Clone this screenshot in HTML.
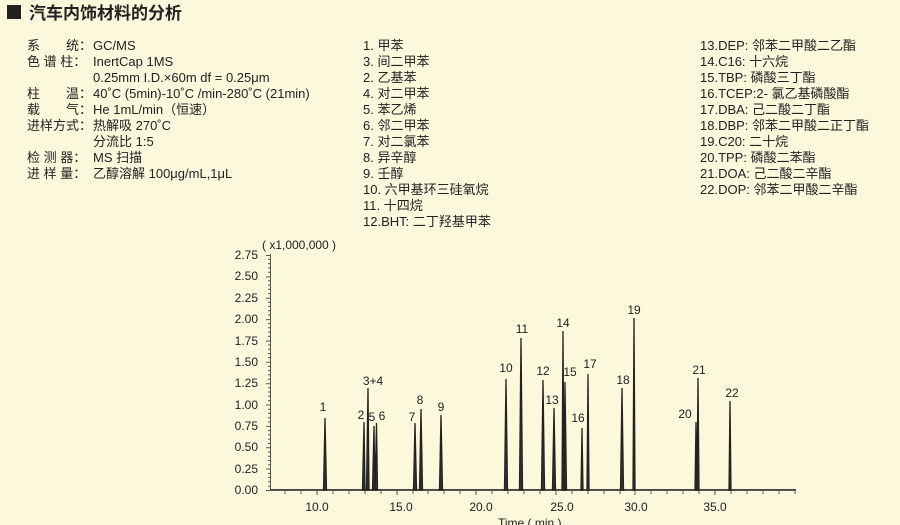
<!DOCTYPE html>
<html><head><meta charset="utf-8"><style>
body{margin:0;width:900px;height:525px;background:#fbf8dc;overflow:hidden;font-family:"Liberation Sans","Noto Sans CJK SC",sans-serif;color:#222}
svg{position:absolute;left:0;top:0}
</style></head><body>
<svg width="900" height="525" viewBox="0 0 900 525" font-family="Liberation Sans, Noto Sans CJK SC, sans-serif">
<rect x="7" y="5" width="14" height="14" fill="#222"/>
<text x="29" y="19" font-size="17" font-weight="bold" fill="#222">汽车内饰材料的分析</text>
<g font-size="13" fill="#222">
<text x="27" y="50">系　　统：</text><text x="93" y="50">GC/MS</text>
<text x="27" y="66">色 谱 柱：</text><text x="93" y="66">InertCap 1MS</text>
<text x="93" y="82">0.25mm I.D.×60m df = 0.25μm</text>
<text x="27" y="98">柱　　温：</text><text x="93" y="98">40˚C (5min)-10˚C /min-280˚C (21min)</text>
<text x="27" y="114">载　　气：</text><text x="93" y="114">He 1mL/min（恒速）</text>
<text x="27" y="130">进样方式：</text><text x="93" y="130">热解吸 270˚C</text>
<text x="93" y="146">分流比 1:5</text>
<text x="27" y="162">检 测 器：</text><text x="93" y="162">MS 扫描</text>
<text x="27" y="178">进 样 量：</text><text x="93" y="178">乙醇溶解 100μg/mL,1μL</text>
</g>
<g font-size="13" fill="#222">
<text x="363" y="50">1. 甲苯</text><text x="363" y="66">3. 间二甲苯</text><text x="363" y="82">2. 乙基苯</text><text x="363" y="98">4. 对二甲苯</text><text x="363" y="114">5. 苯乙烯</text><text x="363" y="130">6. 邻二甲苯</text><text x="363" y="146">7. 对二氯苯</text><text x="363" y="162">8. 异辛醇</text><text x="363" y="178">9. 壬醇</text><text x="363" y="194">10. 六甲基环三硅氧烷</text><text x="363" y="210">11. 十四烷</text><text x="363" y="226">12.BHT: 二丁羟基甲苯</text>
<text x="700" y="50">13.DEP: 邻苯二甲酸二乙酯</text><text x="700" y="66">14.C16: 十六烷</text><text x="700" y="82">15.TBP: 磷酸三丁酯</text><text x="700" y="98">16.TCEP:2- 氯乙基磷酸酯</text><text x="700" y="114">17.DBA: 己二酸二丁酯</text><text x="700" y="130">18.DBP: 邻苯二甲酸二正丁酯</text><text x="700" y="146">19.C20: 二十烷</text><text x="700" y="162">20.TPP: 磷酸二苯酯</text><text x="700" y="178">21.DOA: 己二酸二辛酯</text><text x="700" y="194">22.DOP: 邻苯二甲酸二辛酯</text>
</g>
<g font-size="12" fill="#222">
<text x="262" y="249">( x1,000,000 )</text>
<g text-anchor="end">
<text x="258" y="494">0.00</text><text x="258" y="473">0.25</text><text x="258" y="451">0.50</text><text x="258" y="430">0.75</text><text x="258" y="409">1.00</text><text x="258" y="387">1.25</text><text x="258" y="366">1.50</text><text x="258" y="345">1.75</text><text x="258" y="323">2.00</text><text x="258" y="302">2.25</text><text x="258" y="280">2.50</text><text x="258" y="259">2.75</text>
</g>
<g text-anchor="middle">
<text x="317" y="511">10.0</text><text x="401" y="511">15.0</text><text x="481" y="511">20.0</text><text x="562" y="511">25.0</text><text x="636" y="511">30.0</text><text x="715" y="511">35.0</text>
</g>
<text x="498" y="527">Time ( min )</text>
</g>
<g stroke="#555" stroke-width="1">
<line x1="270.5" y1="254" x2="270.5" y2="490"/>
<line x1="270" y1="490.5" x2="796" y2="490.5"/>
<path d="M266 490.5h4M266 469h4M266 447.8h4M266 426.4h4M266 405h4M266 383.7h4M266 362.3h4M266 341h4M266 319.6h4M266 298.2h4M266 276.9h4M266 255.5h4"/>
<path d="M268 486.2h2M268 481.9h2M268 477.6h2M268 473.4h2M268 464.8h2M268 460.5h2M268 456.2h2M268 452h2M268 443.4h2M268 439.1h2M268 434.8h2M268 430.6h2M268 422h2M268 417.7h2M268 413.4h2M268 409.2h2M268 400.6h2M268 396.3h2M268 392h2M268 387.8h2M268 379.2h2M268 374.9h2M268 370.6h2M268 366.4h2M268 357.8h2M268 353.5h2M268 349.2h2M268 345h2M268 336.4h2M268 332.1h2M268 327.8h2M268 323.6h2M268 315h2M268 310.7h2M268 306.4h2M268 302.2h2M268 293.6h2M268 289.3h2M268 285h2M268 280.8h2M268 272.2h2M268 267.9h2M268 263.6h2M268 259.4h2"/>
<path d="M285 490v4M301 490v4M317 490v5M333 490v4M349 490v4M365 490v4M381 490v4M397 490v5M413 490v4M428 490v4M444 490v4M460 490v4M476 490v5M492 490v4M508 490v4M524 490v4M540 490v4M556 490v5M572 490v4M588 490v4M604 490v4M620 490v4M635 490v5M651 490v4M667 490v4M683 490v4M699 490v4M715 490v5M731 490v4M747 490v4M763 490v4M779 490v4M795 490v4"/>
</g>
<g stroke="#222" stroke-width="1.3" fill="#333">
<path d="M270 489.5H796" stroke="#444" stroke-width="1"/>
<path d="M323.5 490L325 418L326.5 490Z"/>
<path d="M362.5 490L364 422L365 490ZM366.5 490L368 388L369 490ZM372.5 490L374 426L375 490ZM375 490L376.5 423L377.5 490Z"/>
<path d="M413.5 490L415 423L416.5 490ZM419.5 490L421 409L422.5 490ZM439.5 490L441 415L442.5 490Z"/>
<path d="M504.5 490L506 379L507.5 490ZM519.5 490L521 338L522.5 490ZM541.5 490L543 380L544.5 490ZM552.5 490L554 408L555.5 490ZM562 490L563 331L564 490ZM564 490L565 382L566.5 490ZM581 490L582 428L583 490ZM587 490L588 374L589 490Z"/>
<path d="M620.5 490L622 388L623.5 490ZM633 490L634 318L635 490ZM695 490L696 422L697 490ZM697 490L698 378L699 490ZM729 490L730 401L731 490Z"/>
</g>
<g font-size="12" fill="#222" text-anchor="middle">
<text x="323" y="411">1</text><text x="361" y="419">2</text><text x="373" y="385">3+4</text><text x="372" y="421">5</text><text x="382" y="420">6</text><text x="412" y="421">7</text><text x="420" y="404">8</text><text x="441" y="411">9</text>
<text x="506" y="372">10</text><text x="522" y="333">11</text><text x="543" y="375">12</text><text x="552" y="404">13</text><text x="563" y="327">14</text><text x="570" y="376">15</text><text x="578" y="422">16</text><text x="590" y="368">17</text><text x="623" y="384">18</text><text x="634" y="314">19</text><text x="685" y="418">20</text><text x="699" y="374">21</text><text x="732" y="397">22</text>
</g>
</svg>
</body></html>
